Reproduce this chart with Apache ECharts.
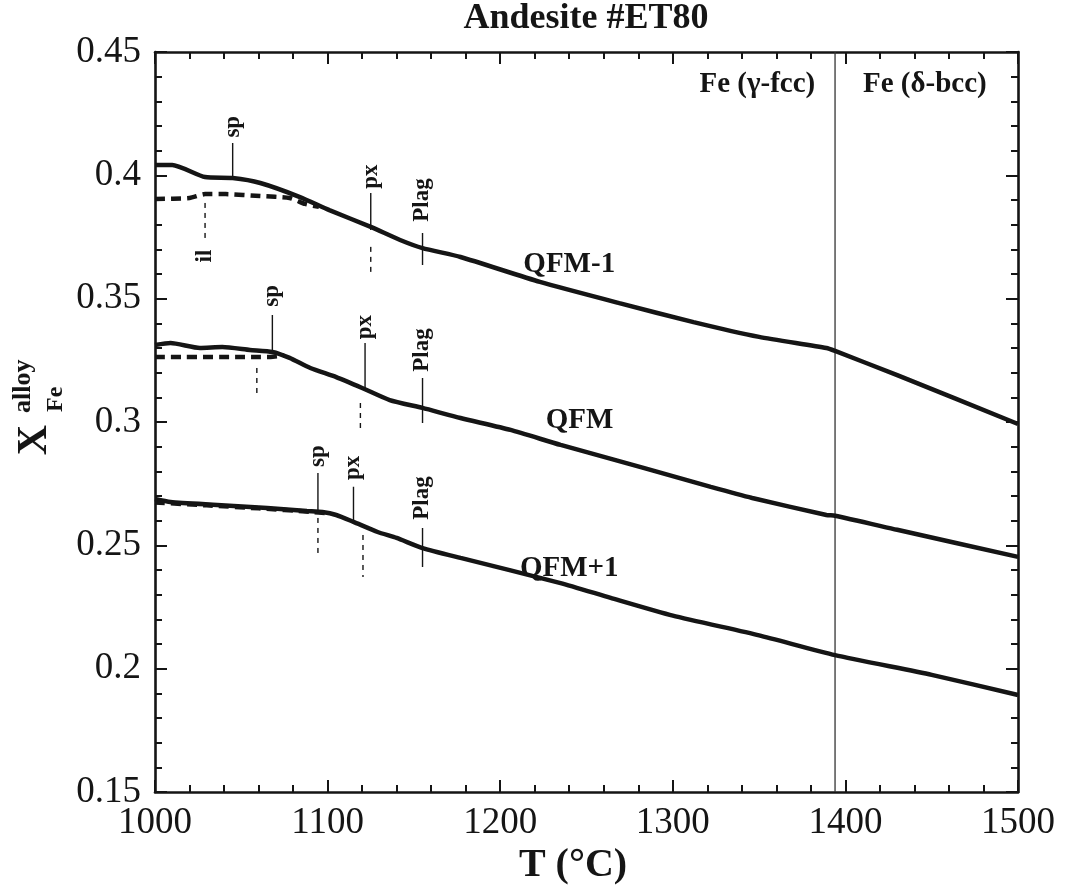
<!DOCTYPE html>
<html>
<head>
<meta charset="utf-8">
<script src="https://cdn.jsdelivr.net/npm/echarts@6/dist/echarts.min.js"></script>
<style>
  html, body { margin: 0; padding: 0; background: #fff; }
  #chart { width: 1071px; height: 894px; }
</style>
</head>
<body>
<div id="chart"></div>
<script>
// Fe mole fraction of the metal alloy vs temperature, andesite ET80
var FONT = "'Liberation Serif', 'Times New Roman', serif";

var xTicks = [1000, 1100, 1200, 1300, 1400, 1500];
var yTicks = [0.15, 0.2, 0.25, 0.3, 0.35, 0.4, 0.45];

// QFM-1 buffer: solid and dashed curves [T, X]
var qfmMinus1 = [[1000,0.4042],[1010,0.4042],[1029,0.3993],[1045,0.3989],[1061,0.3969],[1084,0.3912],[1101,0.3859],[1125,0.3791],[1142,0.3738],[1155,0.3705],[1177,0.3669],[1223,0.3568],[1269,0.3482],[1312,0.3405],[1350,0.3345],[1389,0.3300],[1394,0.3288],[1430,0.3190],[1500,0.2992]];
var qfmMinus1Dash = [[1000,0.3904],[1020,0.3908],[1029,0.3924],[1041,0.3924],[1061,0.3916],[1078,0.3908],[1087,0.3884],[1095,0.3872]];

// QFM buffer
var qfm = [[1000,0.3312],[1009,0.3320],[1026,0.3300],[1039,0.3304],[1055,0.3292],[1068,0.3284],[1078,0.3260],[1090,0.3219],[1105,0.3182],[1120,0.3138],[1136,0.3089],[1155,0.3057],[1177,0.3016],[1206,0.2968],[1235,0.2907],[1283,0.2814],[1322,0.2737],[1346,0.2692],[1389,0.2623],[1394,0.2620],[1430,0.2563],[1500,0.2453]];
var qfmDash = [[1000,0.3264],[1058,0.3264],[1067,0.3264],[1075,0.3270]];

// QFM+1 buffer
var qfmPlus1 = [[1000,0.2688],[1009,0.2676],[1036,0.2664],[1065,0.2651],[1088,0.2639],[1097,0.2635],[1105,0.2623],[1115,0.2595],[1129,0.2554],[1140,0.2530],[1155,0.2489],[1177,0.2449],[1235,0.2347],[1264,0.2287],[1300,0.2215],[1350,0.2135],[1394,0.2055],[1450,0.1975],[1500,0.1893]];
var qfmPlus1Dash = [[1000,0.2674],[1030,0.2662],[1060,0.2650],[1090,0.2636],[1100,0.2630]];

// Phase boundary of the Fe alloy
var phaseBoundaryT = 1394;
var phaseLabels = [[1349, 0.437, 'Fe (γ-fcc)'], [1446, 0.437, 'Fe (δ-bcc)']];

// Curve names
var curveLabels = [[1240, 0.3640, 'QFM-1'], [1246, 0.3008, 'QFM'], [1240, 0.2408, 'QFM+1']];

// Mineral-appearance markers: [T, upper X, lower X, dashed?]
var markerSegments = [
  [1045, 0.4131, 0.3993, false],
  [1029, 0.3888, 0.3726, true],
  [1125, 0.3928, 0.3778, false],
  [1125, 0.3710, 0.3604, true],
  [1155, 0.3766, 0.3636, false],
  [1068, 0.3434, 0.3292, false],
  [1059, 0.3219, 0.3101, true],
  [1121.7, 0.3320, 0.3138, false],
  [1119, 0.3077, 0.2960, true],
  [1155, 0.3178, 0.2996, false],
  [1094.4, 0.2793, 0.2639, false],
  [1094.4, 0.2611, 0.2449, true],
  [1115, 0.2737, 0.2603, false],
  [1120.5, 0.2542, 0.2372, true],
  [1155, 0.2570, 0.2412, false]
];
// Marker names: [T, X at text centre, text]
var markerLabels = [
  [1045, 0.4197, 'sp'], [1029, 0.3673, 'il'], [1125, 0.3995, 'px'], [1155, 0.3900, 'Plag'],
  [1068, 0.3511, 'sp'], [1121.7, 0.3385, 'px'], [1155, 0.3292, 'Plag'],
  [1094.4, 0.2862, 'sp'], [1115, 0.2814, 'px'], [1155, 0.2692, 'Plag']
];

var chart = echarts.init(document.getElementById('chart'), null, { renderer: 'canvas' });

var INK = '#151515';
var curveStyle = { color: INK, width: 4.5 };
var dashStyle = { color: INK, width: 4.5, type: [10, 6] };

function curve(name, data, style) {
  return {
    name: name, type: 'line', data: data, xAxisIndex: 0, yAxisIndex: 0,
    symbol: 'none', smooth: 0.2, lineStyle: style, z: 3, silent: true
  };
}

function textLayer(rows, rotate, size) {
  return {
    type: 'scatter', symbolSize: 1, silent: true, z: 4,
    itemStyle: { color: 'rgba(0,0,0,0)', opacity: 1 },
    data: rows.map(function (d) { return { value: [d[0], d[1]], name: d[2] }; }),
    label: {
      show: true, position: 'inside', rotate: rotate, formatter: '{b}',
      fontFamily: FONT, fontWeight: 'bold', fontSize: size, color: INK, opacity: 1,
      align: 'center', verticalAlign: 'middle'
    }
  };
}

var series = [
  curve('QFM-1', qfmMinus1, curveStyle),
  curve('QFM-1 dashed', qfmMinus1Dash, dashStyle),
  curve('QFM', qfm, curveStyle),
  curve('QFM dashed', qfmDash, dashStyle),
  curve('QFM+1', qfmPlus1, curveStyle),
  curve('QFM+1 dashed', qfmPlus1Dash, dashStyle)
];

// phase boundary
series.push({
  type: 'line', data: [[phaseBoundaryT, 0.15], [phaseBoundaryT, 0.45]],
  symbol: 'none', lineStyle: { color: '#333', width: 1.3 }, z: 2, silent: true
});

// marker segments
markerSegments.forEach(function (m) {
  series.push({
    type: 'line', data: [[m[0], m[1]], [m[0], m[2]]], symbol: 'none', silent: true, z: 2,
    lineStyle: { color: INK, width: 1.4, type: m[3] ? [5, 5] : 'solid' }
  });
});

series.push(textLayer(markerLabels, 90, 23));
series.push(textLayer(curveLabels, 0, 29));
series.push(textLayer(phaseLabels, 0, 29));

var tickCommon = {
  axisLine: { show: true, onZero: false, lineStyle: { color: INK, width: 2.6 } },
  axisTick: { show: true, inside: true, length: 12, lineStyle: { color: INK, width: 2 } },
  minorTick: { show: true, splitNumber: 5, length: 7, lineStyle: { color: INK, width: 2 } },
  splitLine: { show: false },
  minorSplitLine: { show: false }
};

function axis(base, extra) {
  return Object.assign({}, JSON.parse(JSON.stringify(tickCommon)), base, extra);
}

var xBase = { type: 'value', min: xTicks[0], max: xTicks[xTicks.length - 1], interval: 100 };
var yBase = { type: 'value', min: yTicks[0], max: yTicks[yTicks.length - 1], interval: 0.05 };

var option = {
  backgroundColor: '#fff',
  animation: false,
  title: {
    text: 'Andesite #ET80', left: 586, top: 1, textAlign: 'center', padding: 0,
    textStyle: { fontFamily: FONT, fontWeight: 'bold', fontSize: 36, color: INK }
  },
  grid: { left: 155, right: 53, top: 52, bottom: 102, containLabel: false },
  xAxis: [
    axis(xBase, {
      position: 'bottom',
      axisLabel: {
        margin: 13, fontFamily: FONT, fontSize: 37, color: INK,
        formatter: function (v) { return xTicks.indexOf(v) >= 0 ? String(v) : ''; }
      }
    }),
    axis(xBase, { position: 'top', axisLabel: { show: false } })
  ],
  yAxis: [
    axis(yBase, {
      position: 'left',
      axisLabel: {
        margin: 14, fontFamily: FONT, fontSize: 37, color: INK,
        formatter: function (v) { return String(parseFloat(v.toFixed(2))); }
      }
    }),
    axis(yBase, { position: 'right', axisLabel: { show: false } })
  ],
  graphic: [
    {
      type: 'text', x: 573, y: 866,
      style: { text: 'T (°C)', fontFamily: FONT, fontWeight: 'bold', fontSize: 40, fill: INK, align: 'center', verticalAlign: 'middle' }
    },
    {
      type: 'group', x: 35, y: 440, rotation: Math.PI / 2,
      children: [
        { type: 'text', x: 0, y: 0, style: { text: 'X', fontFamily: FONT, fontWeight: 'bold', fontSize: 42, fill: INK, align: 'center', verticalAlign: 'middle' } },
        { type: 'text', x: 27, y: -12, style: { text: 'alloy', fontFamily: FONT, fontWeight: 'bold', fontSize: 26, fill: INK, align: 'left', verticalAlign: 'middle' } },
        { type: 'text', x: 28, y: 21, style: { text: 'Fe', fontFamily: FONT, fontWeight: 'bold', fontSize: 24, fill: INK, align: 'left', verticalAlign: 'middle' } }
      ]
    }
  ],
  series: series
};

chart.setOption(option);
</script>
</body>
</html>
